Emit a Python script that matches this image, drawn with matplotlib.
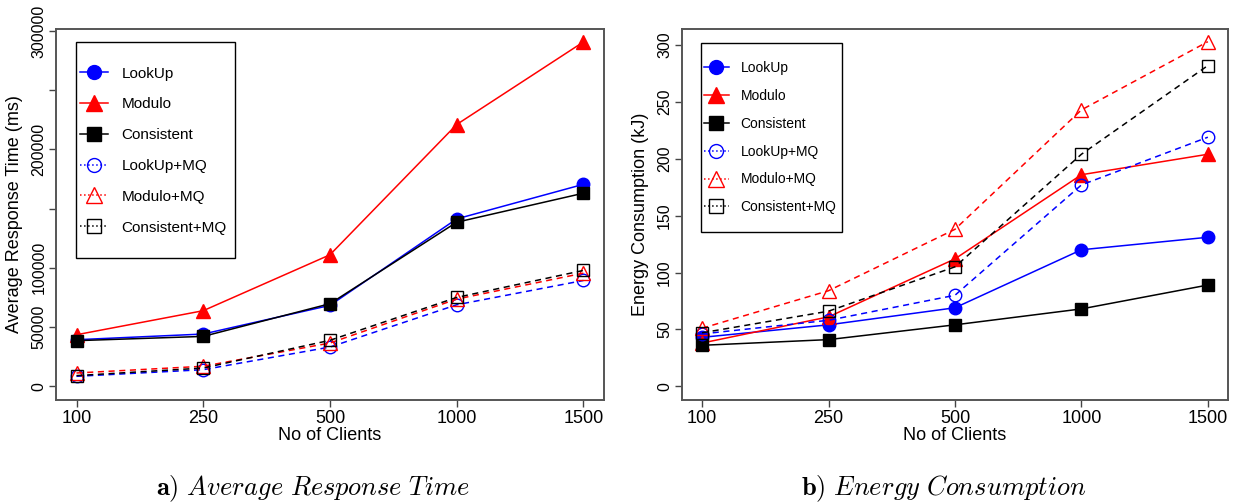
import matplotlib
matplotlib.use("Agg")
import matplotlib.pyplot as plt
from matplotlib.lines import Line2D
from matplotlib.patches import Rectangle

plt.rcParams["font.family"] = ["Liberation Sans", "DejaVu Sans"]
plt.rcParams["mathtext.fontset"] = "cm"

clients = ["100", "250", "500", "1000", "1500"]
series_names = ["LookUp", "Modulo", "Consistent", "LookUp+MQ", "Modulo+MQ", "Consistent+MQ"]

# a) average response time (ms)
resp_lookup = [39300, 44100, 68300, 141300, 170500]
resp_modulo = [43500, 63800, 111000, 221000, 290700]
resp_consistent = [38500, 42100, 69700, 138500, 163000]
resp_lookup_mq = [8400, 14000, 33100, 68800, 89300]
resp_modulo_mq = [11200, 16900, 36500, 73600, 95500]
resp_consistent_mq = [9000, 15400, 38800, 75000, 97800]

# b) energy consumption (kJ)
energy_lookup = [43, 54, 69, 120, 131]
energy_modulo = [38, 61, 112, 186, 204]
energy_consistent = [36, 41, 54, 68, 89]
energy_lookup_mq = [46, 58, 80, 177, 219]
energy_modulo_mq = [51, 84, 138, 243, 303]
energy_consistent_mq = [47, 66, 105, 204, 282]

resp_ticks = [0, 50000, 100000, 150000, 200000, 250000, 300000]
resp_tick_labels = ["0", "50000", "100000", "", "200000", "", "300000"]
energy_ticks = [0, 50, 100, 150, 200, 250, 300]
energy_tick_labels = ["0", "50", "100", "150", "200", "250", "300"]

# colour, marker, filled, dashed
styles = {
    "LookUp": ("#0000ff", "o", True, False),
    "Modulo": ("#ff0000", "^", True, False),
    "Consistent": ("#000000", "s", True, False),
    "LookUp+MQ": ("#0000ff", "o", False, True),
    "Modulo+MQ": ("#ff0000", "^", False, True),
    "Consistent+MQ": ("#000000", "s", False, True),
}
msizes = {"o": 9, "^": 10, "s": 8.5}


def draw_panel(ax, data, ylim, yticks, ylabels, ylabel, leg):
    x = list(range(1, len(clients) + 1))
    for name, vals in zip(series_names, data):
        color, marker, filled, dashed = styles[name]
        ax.plot(x, vals, color=color, lw=1.1,
                linestyle=(0, (4, 3)) if dashed else "-",
                marker=marker, markersize=msizes[marker],
                markerfacecolor=color if filled else "none",
                markeredgecolor=color, markeredgewidth=1.0)
    ax.set_xlim(0.84, 5.16)
    ax.set_ylim(*ylim)
    ax.set_xticks(x)
    ax.set_xticklabels(clients)
    ax.set_yticks(yticks)
    ax.set_yticklabels(ylabels)
    ax.tick_params(axis="x", labelsize=13, length=5, width=1, color="#444444", pad=2)
    ax.tick_params(axis="y", labelsize=11.5, length=5, width=1, color="#444444",
                   labelrotation=90, pad=2)
    for t in ax.get_yticklabels():
        t.set_va("center")
    for sp in ax.spines.values():
        sp.set_color("#555555")
        sp.set_linewidth(1.4)
    ax.set_xlabel("No of Clients", fontsize=13, labelpad=0)
    ax.set_ylabel(ylabel, fontsize=13, labelpad=6)

    # legend frame drawn separately (R style: tight sides, roomy top/bottom)
    fx0, fx1, fy0, fy1 = leg["frame"]
    ax.add_patch(Rectangle((fx0, fy0), fx1 - fx0, fy1 - fy0, transform=ax.transAxes,
                           facecolor="white", edgecolor="black", lw=1.0, zorder=4))
    handles = []
    for name in series_names:
        color, marker, filled, dashed = styles[name]
        handles.append(Line2D([], [], color=color, lw=1.1,
                              linestyle=":" if dashed else "-",
                              marker=marker, markersize=msizes[marker] + 1,
                              markerfacecolor=color if filled else "none",
                              markeredgecolor=color))
    lg = ax.legend(handles, series_names, loc="center left",
                   bbox_to_anchor=leg["anchor"], borderaxespad=0, borderpad=0,
                   fontsize=leg["fs"], labelspacing=leg["space"],
                   handlelength=leg["hl"], handletextpad=leg["hp"],
                   frameon=False)
    lg.set_zorder(5)


fig = plt.figure(figsize=(12.33, 5.03), dpi=100)
ax1 = fig.add_axes([0.0456, 0.205, 0.444, 0.737])
ax2 = fig.add_axes([0.553, 0.205, 0.443, 0.737])

draw_panel(ax1, [resp_lookup, resp_modulo, resp_consistent,
                 resp_lookup_mq, resp_modulo_mq, resp_consistent_mq],
           (-11500, 301500), resp_ticks, resp_tick_labels, "Average Response Time (ms)",
           dict(frame=(0.0365, 0.3266, 0.383, 0.965), anchor=(0.0438, 0.6725),
                fs=11, space=1.1, hl=1.8, hp=0.9))
draw_panel(ax2, [energy_lookup, energy_modulo, energy_consistent,
                 energy_lookup_mq, energy_modulo_mq, energy_consistent_mq],
           (-12, 314), energy_ticks, energy_tick_labels, "Energy Consumption (kJ)",
           dict(frame=(0.0348, 0.293, 0.453, 0.962), anchor=(0.0403, 0.7075),
                fs=10, space=1.0, hl=1.8, hp=0.85))

fig.text(0.254, 0.016, r"$\mathbf{a)}\ \mathit{Average\ Response\ Time}$",
         fontsize=19, ha="center", va="baseline")
fig.text(0.765, 0.016, r"$\mathbf{b)}\ \mathit{Energy\ Consumption}$",
         fontsize=19, ha="center", va="baseline")

fig.savefig("out.png", dpi=100)
